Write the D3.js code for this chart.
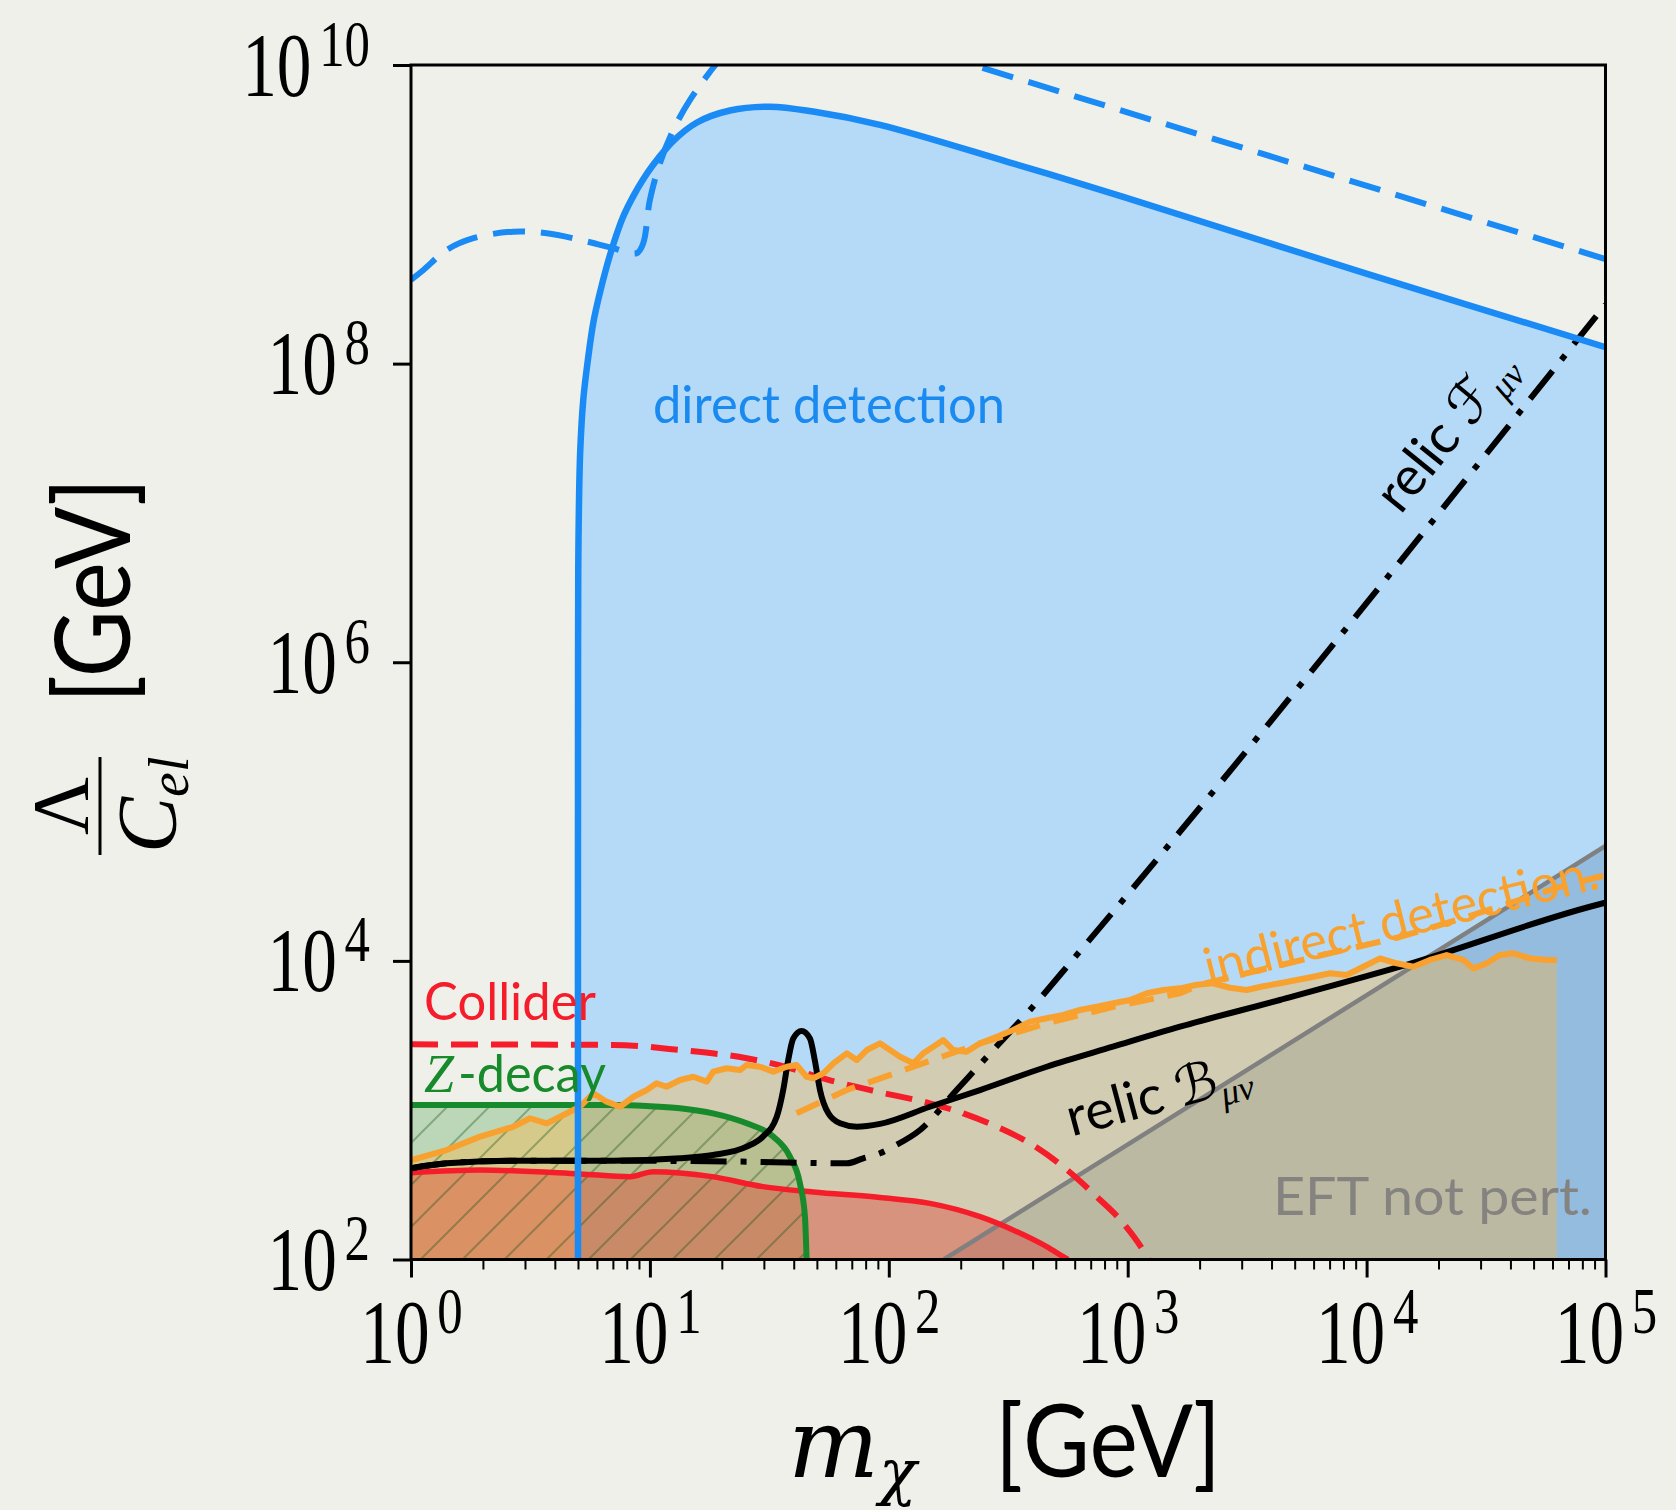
<!DOCTYPE html>
<html><head><meta charset="utf-8">
<script src="https://cdn.jsdelivr.net/npm/d3@7"></script>
<style>html,body{margin:0;padding:0;background:#f0f0eb;} svg{display:block;}</style>
</head><body>
<svg id="chart" width="1676" height="1510"></svg>
<script>
// All curves: [log10(m_chi / GeV), log10(Lambda/C_el / GeV)]
const directSolid = [[0.699,2.0],[0.6992,6.0],[0.701,6.8],[0.708,7.4],[0.721,7.757],[0.740,8.02],[0.763,8.273],[0.790,8.47],[0.819,8.65],[0.847,8.80],[0.887,8.98],[0.930,9.12],[0.970,9.23],[1.013,9.33],[1.097,9.49],[1.197,9.615],[1.335,9.695],[1.503,9.721],[1.683,9.688],[1.963,9.599],[2.5,9.35],[2.978,9.119],[3.992,8.606],[5.0,8.11]];
const directDashedLow = [[0.0,8.561],[0.052,8.627],[0.149,8.761],[0.261,8.840],[0.428,8.884],[0.568,8.873],[0.707,8.829],[0.847,8.773],[0.945,8.740],[0.972,8.806],[1.000,9.096],[1.042,9.342],[1.098,9.565],[1.168,9.766],[1.280,10.012],[1.33,10.1]];
const directDashedHigh = [[2.2,10.075],[5.0,8.70]];
const colliderSolid = [[0,2.581],[0.289,2.599],[0.707,2.573],[0.917,2.555],[1.013,2.588],[1.26,2.555],[1.473,2.488],[1.683,2.452],[1.963,2.415],[2.172,2.376],[2.382,2.287],[2.52,2.198],[2.661,2.086],[2.73,2.019],[2.75,2.0]];
const colliderDashed = [[0,3.441],[0.846,3.437],[1.126,3.403],[1.405,3.348],[1.545,3.30],[1.754,3.20],[1.963,3.12],[2.172,3.046],[2.312,2.979],[2.452,2.889],[2.591,2.778],[2.730,2.621],[2.870,2.421],[2.982,2.242],[3.080,2.019],[3.09,1.99]];
const zDecay = [[0,3.035],[0.846,3.035],[0.987,3.028],[1.126,3.013],[1.264,2.979],[1.405,2.912],[1.517,2.822],[1.586,2.689],[1.628,2.51],[1.649,2.287],[1.656,2.0]];
const indirectSolid = [[0,2.666],[0.149,2.733],[0.289,2.823],[0.428,2.889],[0.498,2.946],[0.568,2.912],[0.638,2.968],[0.707,3.023],[0.763,3.113],[0.819,3.057],[0.875,3.023],[0.931,3.090],[0.987,3.135],[1.028,3.180],[1.070,3.157],[1.126,3.202],[1.182,3.224],[1.238,3.191],[1.265,3.258],[1.321,3.281],[1.377,3.269],[1.405,3.303],[1.461,3.291],[1.517,3.258],[1.573,3.291],[1.614,3.303],[1.656,3.224],[1.684,3.214],[1.726,3.247],[1.768,3.314],[1.824,3.381],[1.866,3.336],[1.908,3.403],[1.963,3.448],[2.005,3.403],[2.047,3.358],[2.103,3.314],[2.144,3.381],[2.186,3.425],[2.228,3.470],[2.270,3.403],[2.326,3.392],[2.382,3.448],[2.452,3.492],[2.521,3.537],[2.591,3.593],[2.661,3.616],[2.730,3.638],[2.800,3.671],[2.870,3.693],[2.940,3.716],[3.010,3.738],[3.080,3.783],[3.149,3.805],[3.219,3.816],[3.289,3.840],[3.358,3.850],[3.428,3.820],[3.498,3.805],[3.567,3.830],[3.637,3.850],[3.707,3.872],[3.777,3.894],[3.847,3.917],[3.917,3.906],[3.986,3.961],[4.056,4.017],[4.126,3.984],[4.196,3.961],[4.265,4.006],[4.335,4.039],[4.405,4.006],[4.447,3.950],[4.503,3.984],[4.558,4.039],[4.614,4.051],[4.684,4.017],[4.754,4.006],[4.796,4.006]];
const indirectDashed = [[1.614,2.979],[1.824,3.135],[2.103,3.291],[2.382,3.448],[2.661,3.582],[2.940,3.693],[3.219,3.783],[3.30,3.84],[3.79,4.03],[4.14,4.16],[4.41,4.29],[4.80,4.49],[4.99,4.57]];
const relicB = [[0,2.611],[0.149,2.644],[0.427,2.662],[0.846,2.662],[1.126,2.678],[1.264,2.700],[1.405,2.756],[1.473,2.823],[1.531,2.956],[1.558,3.135],[1.579,3.336],[1.600,3.48],[1.635,3.53],[1.670,3.48],[1.690,3.336],[1.712,3.135],[1.747,2.979],[1.796,2.912],[1.866,2.889],[1.963,2.908],[2.172,3.023],[2.382,3.135],[2.661,3.291],[2.938,3.425],[3.219,3.559],[3.637,3.738],[4.140,3.961],[4.990,4.386],[5.0,4.39]];
const relicF = [[0,2.611],[0.149,2.644],[0.427,2.662],[0.846,2.662],[1.126,2.66],[1.405,2.655],[1.824,2.644],[1.893,2.678],[1.963,2.711],[2.019,2.756],[2.131,2.867],[2.284,3.135],[2.437,3.403],[2.591,3.671],[2.787,4.040],[5.0,8.396]];
const eftLine = [[2.23,2.0],[5.0,4.77]];
const xTickExps = [0,1,2,3,4,5];
const yTickExps = [2,4,6,8,10];

const L = 411, R = 1605.5, T = 65, B = 1259.5;
const x = d3.scaleLog().domain([1, 1e5]).range([L, R]);
const y = d3.scaleLog().domain([1e2, 1e10]).range([B, T]);
const val = arr => arr.map(d => [Math.pow(10, d[0]), Math.pow(10, d[1])]);

const svg = d3.select("#chart");
svg.append("rect").attr("width", 1676).attr("height", 1510).attr("fill", "#f0f0eb");
const defs = svg.append("defs");
defs.append("clipPath").attr("id", "plotClip").append("rect")
  .attr("x", L).attr("y", T).attr("width", R - L).attr("height", B - T);
const pat = defs.append("pattern").attr("id", "hatch").attr("patternUnits", "userSpaceOnUse")
  .attr("width", 42).attr("height", 42);
pat.append("path").attr("d", "M0,42 L42,0 M-10,10 L10,-10 M32,52 L52,32")
  .attr("stroke", "rgba(20,80,20,0.35)").attr("stroke-width", 2);

const g = svg.append("g").attr("clip-path", "url(#plotClip)");

const area = (curve) => d3.area().x(d => x(d[0])).y0(B).y1(d => y(d[1])).curve(curve);
const line = (curve) => d3.line().x(d => x(d[0])).y(d => y(d[1])).curve(curve);

// fills
g.append("path").attr("d", area(d3.curveCatmullRom.alpha(0.5))(val(directSolid))).attr("fill", "#b5daf7");
g.append("path").attr("d", d3.area().x(d => x(d[0])).y0(B).y1(d => y(d[1]))(val(eftLine).concat([[1e5, Math.pow(10, 4.77)]])))
  .attr("fill", "rgba(73,118,170,0.30)");
g.append("path").attr("d", area(d3.curveMonotoneX)(val(zDecay))).attr("fill", "rgba(0,128,0,0.22)");
g.append("path").attr("d", area(d3.curveLinear)(val(indirectSolid))).attr("fill", "rgba(255,182,67,0.38)");
g.append("path").attr("d", area(d3.curveMonotoneX)(val(colliderSolid))).attr("fill", "rgba(230,40,30,0.35)");
g.append("path").attr("d", area(d3.curveMonotoneX)(val(zDecay))).attr("fill", "url(#hatch)");

// lines
const drawLine = (data, curve, color, w, dash) => {
  const p = g.append("path").attr("d", line(curve)(val(data))).attr("fill", "none")
    .attr("stroke", color).attr("stroke-width", w).attr("stroke-linejoin", "round");
  if (dash) p.attr("stroke-dasharray", dash);
  return p;
};
drawLine(eftLine, d3.curveLinear, "#808080", 4.5);
drawLine(colliderSolid, d3.curveMonotoneX, "#f51d2a", 5.5);
drawLine(zDecay, d3.curveMonotoneX, "#178a2c", 6);
drawLine(colliderDashed, d3.curveMonotoneX, "#f51d2a", 6, "27,13");
drawLine(relicB, d3.curveMonotoneX, "#000", 6);
drawLine(relicF, d3.curveMonotoneX, "#000", 6, "36,14,6,14");
drawLine(indirectDashed, d3.curveLinear, "#f9a12f", 6, "25,14");
drawLine(indirectSolid, d3.curveLinear, "#f9a12f", 6);
drawLine(directSolid, d3.curveCatmullRom.alpha(0.5), "#1a8af5", 6.5);
drawLine(directDashedLow, d3.curveCatmullRom.alpha(0.5), "#1a8af5", 6, "32,16");
drawLine(directDashedHigh, d3.curveLinear, "#1a8af5", 6, "32,16");

// annotations
const SANS = "Lato, 'Open Sans', sans-serif";
const SERIF = "'Liberation Serif', 'DejaVu Serif', serif";
svg.append("text").attr("x", 653).attr("y", 423).attr("font-family", SANS).attr("font-size", 52)
  .attr("fill", "#1a8af0").attr("textLength", 352).attr("lengthAdjust", "spacingAndGlyphs").text("direct detection");
svg.append("text").attr("x", 424).attr("y", 1020).attr("font-family", SANS).attr("font-size", 52)
  .attr("fill", "#f51d2a").attr("textLength", 172).attr("lengthAdjust", "spacingAndGlyphs").text("Collider");
const zt = svg.append("text").attr("y", 1092).attr("fill", "#178a2c");
zt.append("tspan").attr("x", 424).attr("font-family", SERIF).attr("font-style", "italic").attr("font-size", 54).text("Z");
zt.append("tspan").attr("x", 458).attr("font-family", SANS).attr("font-size", 52)
  .attr("textLength", 148).attr("lengthAdjust", "spacingAndGlyphs").text("-decay");
svg.append("text").attr("x", 1273).attr("y", 1215).attr("font-family", SANS).attr("font-size", 52)
  .attr("fill", "#858380").attr("textLength", 319).attr("lengthAdjust", "spacingAndGlyphs").text("EFT not pert.");
svg.append("text").attr("transform", "translate(1405,937) rotate(-14)").attr("text-anchor", "middle")
  .attr("font-family", SANS).attr("font-size", 52).attr("fill", "#f9a12f")
  .attr("textLength", 404).attr("lengthAdjust", "spacingAndGlyphs").text("indirect detection.");
const rb = svg.append("text").attr("transform", "translate(1163,1112) rotate(-15)").attr("text-anchor", "middle").attr("fill", "#000");
rb.append("tspan").attr("font-family", SANS).attr("font-size", 54).text("relic ");
rb.append("tspan").attr("font-family", "'DejaVu Sans', sans-serif").attr("font-size", 54).text("ℬ");
rb.append("tspan").attr("font-family", SERIF).attr("font-style", "italic").attr("font-size", 36).attr("dy", 10).text("μν");
const rf = svg.append("text").attr("transform", "translate(1460,442) rotate(-51)").attr("text-anchor", "middle").attr("fill", "#000");
rf.append("tspan").attr("font-family", SANS).attr("font-size", 54).text("relic ");
rf.append("tspan").attr("font-family", "'DejaVu Sans', sans-serif").attr("font-size", 54).text("ℱ");
rf.append("tspan").attr("font-family", SERIF).attr("font-style", "italic").attr("font-size", 36).attr("dy", 10).text("μν");

// axes
const xMinor = [];
for (let e = 0; e < 5; e++) for (let k = 2; k <= 9; k++) xMinor.push(k * Math.pow(10, e));
const gxMinor = svg.append("g").attr("transform", `translate(0,${B})`)
  .call(d3.axisBottom(x).tickValues(xMinor).tickSize(10).tickFormat(() => ""));
gxMinor.select(".domain").remove();
gxMinor.selectAll(".tick line").attr("stroke", "#000").attr("stroke-width", 2);
const gx = svg.append("g").attr("transform", `translate(0,${B})`)
  .call(d3.axisBottom(x).tickValues(xTickExps.map(e => Math.pow(10, e))).tickSize(18).tickFormat(() => ""));
gx.select(".domain").remove();
gx.selectAll(".tick line").attr("stroke", "#000").attr("stroke-width", 3);
gx.selectAll(".tick text").remove();
gx.selectAll(".tick").each(function(d, i) {
  const t = d3.select(this).append("g").attr("transform", "translate(0,103) scale(0.77,1)")
    .append("text").attr("text-anchor", "middle").attr("font-family", SERIF).attr("font-size", 90).attr("fill", "#000");
  t.append("tspan").text("10");
  t.append("tspan").attr("dx", 10).attr("dy", -30).attr("font-size", 66).text(xTickExps[i]);
});
const gy = svg.append("g").attr("transform", `translate(${L},0)`)
  .call(d3.axisLeft(y).tickValues(yTickExps.map(e => Math.pow(10, e))).tickSize(18).tickFormat(() => ""));
gy.select(".domain").remove();
gy.selectAll(".tick line").attr("stroke", "#000").attr("stroke-width", 3);
gy.selectAll(".tick text").remove();
gy.selectAll(".tick").each(function(d, i) {
  const t = d3.select(this).append("g").attr("transform", `translate(${370 - L},30) scale(0.77,1)`)
    .append("text").attr("text-anchor", "end").attr("font-family", SERIF).attr("font-size", 90).attr("fill", "#000");
  t.append("tspan").text("10");
  t.append("tspan").attr("dx", 10).attr("dy", -30).attr("font-size", 66).text(yTickExps[i]);
});
svg.append("rect").attr("x", L).attr("y", T).attr("width", R - L).attr("height", B - T)
  .attr("fill", "none").attr("stroke", "#000").attr("stroke-width", 3);

// axis labels
const xl = svg.append("text").attr("y", 1477).attr("fill", "#000");
xl.append("tspan").attr("x", 788).attr("font-family", "'DejaVu Serif', serif").attr("font-style", "italic").attr("font-size", 96).text("m");
xl.append("tspan").attr("font-family", "'DejaVu Serif', serif").attr("font-style", "italic").attr("font-size", 62).attr("dy", 16).text("χ");
xl.append("tspan").attr("x", 995).attr("y", 1477).attr("font-family", SANS).attr("font-size", 100)
  .attr("textLength", 226).attr("lengthAdjust", "spacingAndGlyphs").text("[GeV]");

const yl = svg.append("g").attr("transform", "translate(129.5,857) rotate(-90)");
yl.append("line").attr("x1", 2).attr("x2", 100).attr("y1", -29.5).attr("y2", -29.5).attr("stroke", "#000").attr("stroke-width", 3);
yl.append("text").attr("x", 51).attr("y", -42).attr("text-anchor", "middle").attr("font-family", SERIF).attr("font-size", 80).text("Λ");
const ct = yl.append("text").attr("x", 4).attr("y", 46).attr("font-family", SERIF).attr("font-style", "italic");
ct.append("tspan").attr("font-size", 84).text("C");
ct.append("tspan").attr("font-size", 56).attr("dy", 12).text("el");
yl.append("text").attr("x", 154).attr("y", 0).attr("font-family", SANS).attr("font-size", 104)
  .attr("textLength", 225).attr("lengthAdjust", "spacingAndGlyphs").text("[GeV]");
</script>
</body></html>
